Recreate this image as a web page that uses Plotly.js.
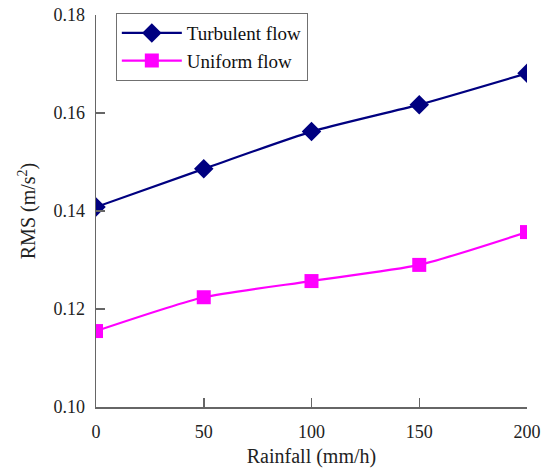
<!DOCTYPE html>
<html>
<head>
<meta charset="utf-8">
<script src="https://cdn.plot.ly/plotly-3.0.1.min.js"></script>
<style>html,body{margin:0;padding:0;background:#fff;}#chart{width:547px;height:468px;}</style>
</head>
<body>
<div id="chart"></div>
<script>
const rainfall = [0, 50, 100, 150, 200];
const turbulentFlow = [0.1408, 0.1486, 0.1562, 0.1617, 0.1681];
const uniformFlow = [0.1155, 0.1224, 0.1257, 0.1290, 0.1357];
const yTicks = [0.10, 0.12, 0.14, 0.16, 0.18];
const xTicks = [0, 50, 100, 150, 200];

const fam = '"Liberation Serif", "Times New Roman", serif';
const tickFont = {family: fam, size: 18, color: '#222'};
const legFont = {family: fam, size: 19, color: '#111'};
const titleFont = {family: fam, size: 20, color: '#222'};

const traces = [
  {x: rainfall, y: turbulentFlow, name: 'Turbulent flow', type: 'scatter', mode: 'lines+markers',
   line: {color: '#000080', width: 2.2, shape: 'spline', smoothing: 0.6},
   marker: {symbol: 'diamond', size: 15, color: '#000080'}},
  {x: rainfall, y: uniformFlow, name: 'Uniform flow', type: 'scatter', mode: 'lines+markers',
   line: {color: '#FF00FF', width: 2.2, shape: 'spline', smoothing: 0.6},
   marker: {symbol: 'square', size: 14, color: '#FF00FF'}}
];

const layout = {
  width: 547, height: 468,
  margin: {l: 96, r: 20, t: 15, b: 61},
  paper_bgcolor: '#fff', plot_bgcolor: '#fff',
  font: legFont,
  showlegend: true,
  legend: {x: 0.046, y: 1.005, xanchor: 'left', yanchor: 'top',
           bordercolor: '#707070', borderwidth: 1, bgcolor: '#fff',
           font: legFont, tracegroupgap: 0, itemwidth: 60},
  xaxis: {range: [0, 200], tickvals: xTicks, ticks: 'inside', ticklen: 9, tickcolor: '#666', tickwidth: 1.5,
          showline: true, linecolor: '#666', linewidth: 1.5, showgrid: false, zeroline: false,
          ticklabelstandoff: 8,
          tickfont: tickFont, title: {text: 'Rainfall (mm/h)', font: titleFont, standoff: 8}},
  yaxis: {range: [0.10, 0.18], tickvals: yTicks, tickformat: '.2f', ticks: 'inside', ticklen: 9, tickcolor: '#666', tickwidth: 1.5,
          showline: true, linecolor: '#666', linewidth: 1.5, showgrid: false, zeroline: false,
          ticklabelstandoff: 6,
          tickfont: tickFont, title: {text: 'RMS (m/s<sup>2</sup>)', font: titleFont, standoff: 12}}
};

Plotly.newPlot('chart', traces, layout, {displayModeBar: false, staticPlot: true});
</script>
</body>
</html>
